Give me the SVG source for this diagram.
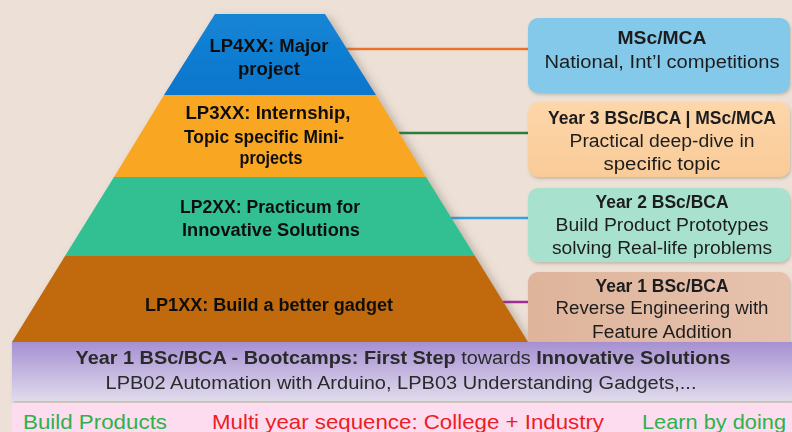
<svg xmlns="http://www.w3.org/2000/svg" width="792" height="432" viewBox="0 0 792 432">
  <style>
    .tier { font-family: "Liberation Sans", Arial, sans-serif; font-size: 18px; font-weight: bold; fill: #111; text-anchor: middle; }
    .card { font-family: "Liberation Sans", Arial, sans-serif; font-size: 18px; fill: #1e1e1e; text-anchor: middle; }
    .card-h { font-weight: bold; }
    .band { font-family: "Liberation Sans", Arial, sans-serif; font-size: 18px; fill: #2b2b2b; text-anchor: middle; }
    .foot { font-family: "Liberation Sans", Arial, sans-serif; font-size: 21px; }
    .link { fill: none; stroke-width: 2.5; }
  </style>
  <defs>
    <filter id="shadow" x="-10%" y="-10%" width="125%" height="130%">
      <feDropShadow dx="5" dy="3" stdDeviation="4" flood-color="#6b5a4a" flood-opacity="0.35"/>
    </filter>
    <filter id="cardShadow" x="-5%" y="-10%" width="110%" height="130%">
      <feDropShadow dx="1" dy="2" stdDeviation="1.5" flood-color="#6b5a4a" flood-opacity="0.3"/>
    </filter>
    <linearGradient id="gBlue" x1="0" y1="0" x2="0" y2="1">
      <stop offset="0" stop-color="#1585d6"/>
      <stop offset="1" stop-color="#0a76cc"/>
    </linearGradient>
    <linearGradient id="gBand" x1="0" y1="0" x2="0" y2="1">
      <stop offset="0" stop-color="#a690d2"/>
      <stop offset="1" stop-color="#e0dbec"/>
    </linearGradient>
    <linearGradient id="gPeach" x1="0" y1="0" x2="0" y2="1">
      <stop offset="0" stop-color="#fdd6aa"/>
      <stop offset="1" stop-color="#f9cb98"/>
    </linearGradient>
    <linearGradient id="gRose" x1="0" y1="0" x2="1" y2="0">
      <stop offset="0" stop-color="#deb49b"/>
      <stop offset="1" stop-color="#e6c2ad"/>
    </linearGradient>
  </defs>

  <!-- page background -->
  <rect x="0" y="0" width="792" height="432" fill="#ede1d7"/>

  <!-- connectors from pyramid tiers to the level cards -->
  <g id="connectors">
    <line class="link" x1="346" y1="49" x2="530" y2="49" stroke="#e8732c"/>
    <line class="link" x1="399" y1="133" x2="530" y2="133" stroke="#2f7d3a"/>
    <line class="link" x1="451" y1="218" x2="530" y2="218" stroke="#3a9fe0"/>
    <line class="link" x1="503" y1="302" x2="530" y2="302" stroke="#a3289f"/>
  </g>

  <!-- pyramid -->
  <g id="pyramid" filter="url(#shadow)">
    <g id="tier-lp4xx">
      <polygon points="215,14 325,14 376,95 164,95" fill="url(#gBlue)"/>
      <text class="tier" x="269" y="52" textLength="119" lengthAdjust="spacingAndGlyphs">LP4XX: Major</text>
      <text class="tier" x="269" y="75" textLength="62" lengthAdjust="spacingAndGlyphs">project</text>
    </g>
    <g id="tier-lp3xx">
      <polygon points="164,95 376,95 426,177 114,177" fill="#f9a620"/>
      <text class="tier" x="268" y="119" textLength="165" lengthAdjust="spacingAndGlyphs">LP3XX: Internship,</text>
      <text class="tier" x="264" y="143" textLength="160" lengthAdjust="spacingAndGlyphs">Topic specific Mini-</text>
      <text class="tier" x="271" y="164" textLength="63" lengthAdjust="spacingAndGlyphs">projects</text>
    </g>
    <g id="tier-lp2xx">
      <polygon points="114,177 426,177 475,256 65,256" fill="#30c092"/>
      <text class="tier" x="270" y="213" textLength="180" lengthAdjust="spacingAndGlyphs">LP2XX: Practicum for</text>
      <text class="tier" x="271" y="236" textLength="178" lengthAdjust="spacingAndGlyphs">Innovative Solutions</text>
    </g>
    <g id="tier-lp1xx">
      <polygon points="65,256 475,256 528,342 12,342" fill="#c0690b"/>
      <text class="tier" x="269" y="311" textLength="248" lengthAdjust="spacingAndGlyphs">LP1XX: Build a better gadget</text>
    </g>
  </g>

  <!-- level cards -->
  <g id="card-msc" filter="url(#cardShadow)">
    <rect x="528" y="18" width="262" height="75" rx="10" fill="#84c8ea"/>
    <text class="card card-h" x="662" y="44" textLength="89" lengthAdjust="spacingAndGlyphs">MSc/MCA</text>
    <text class="card" x="662" y="68" textLength="235" lengthAdjust="spacingAndGlyphs">National, Int’l competitions</text>
  </g>
  <g id="card-year3" filter="url(#cardShadow)">
    <rect x="528" y="102" width="262" height="75" rx="10" fill="url(#gPeach)"/>
    <text class="card card-h" x="662" y="124" textLength="228" lengthAdjust="spacingAndGlyphs">Year 3 BSc/BCA | MSc/MCA</text>
    <text class="card" x="662" y="147" textLength="185" lengthAdjust="spacingAndGlyphs">Practical deep-dive in</text>
    <text class="card" x="662" y="170" textLength="117" lengthAdjust="spacingAndGlyphs">specific topic</text>
  </g>
  <g id="card-year2" filter="url(#cardShadow)">
    <rect x="528" y="188" width="262" height="74" rx="10" fill="#a8e2cf"/>
    <text class="card card-h" x="662" y="208" textLength="133" lengthAdjust="spacingAndGlyphs">Year 2 BSc/BCA</text>
    <text class="card" x="662" y="231" textLength="213" lengthAdjust="spacingAndGlyphs">Build Product Prototypes</text>
    <text class="card" x="662" y="254" textLength="220" lengthAdjust="spacingAndGlyphs">solving Real-life problems</text>
  </g>
  <g id="card-year1" filter="url(#cardShadow)">
    <rect x="528" y="272" width="262" height="80" rx="10" fill="url(#gRose)"/>
    <text class="card card-h" x="662" y="292" textLength="133" lengthAdjust="spacingAndGlyphs">Year 1 BSc/BCA</text>
    <text class="card" x="662" y="314" textLength="213" lengthAdjust="spacingAndGlyphs">Reverse Engineering with</text>
    <text class="card" x="662" y="338" textLength="140" lengthAdjust="spacingAndGlyphs">Feature Addition</text>
  </g>

  <!-- bootcamp band -->
  <g id="bootcamps" filter="url(#cardShadow)">
    <rect x="12" y="342" width="780" height="59" fill="url(#gBand)"/>
    <text class="band" x="403" y="364" textLength="655" lengthAdjust="spacingAndGlyphs"><tspan font-weight="bold">Year 1 BSc/BCA - Bootcamps:  First Step</tspan> towards <tspan font-weight="bold">Innovative Solutions</tspan></text>
    <text class="band" x="401" y="389" textLength="591" lengthAdjust="spacingAndGlyphs" fill="#333">LPB02 Automation with Arduino, LPB03 Understanding Gadgets,...</text>
  </g>

  <!-- footer strip -->
  <g id="footer">
    <rect x="12" y="403" width="780" height="29" fill="#fcdcee"/>
    <text class="foot" x="23" y="429" fill="#2bb24c" textLength="144" lengthAdjust="spacingAndGlyphs">Build Products</text>
    <text class="foot" x="212" y="429" fill="#ee1c25" textLength="392" lengthAdjust="spacingAndGlyphs">Multi year sequence: College + Industry</text>
    <text class="foot" x="642" y="429" fill="#2bb24c" textLength="144" lengthAdjust="spacingAndGlyphs">Learn by doing</text>
  </g>
</svg>
